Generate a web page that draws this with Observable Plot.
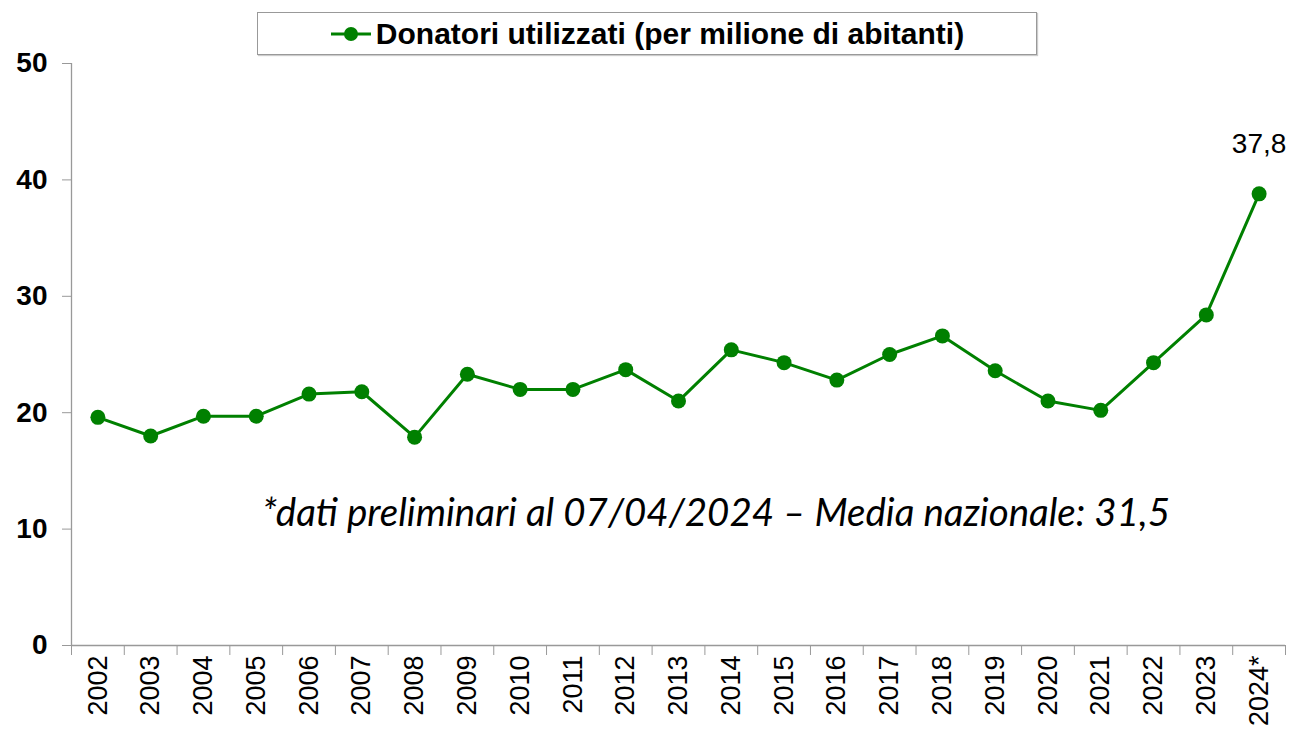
<!DOCTYPE html>
<html>
<head>
<meta charset="utf-8">
<script src="https://cdn.jsdelivr.net/npm/d3@7"></script>
<script src="https://cdn.jsdelivr.net/npm/@observablehq/plot@0.6"></script>
<style>
  html, body { margin: 0; padding: 0; background: #fff; }
  #wrap { position: relative; width: 1293px; height: 733px; }
  #legend {
    position: absolute; left: 257px; top: 12px; width: 780px; height: 43px;
    border: 1px solid #999; box-shadow: 1px 1px 1px #ccc; box-sizing: border-box;
    display: flex; align-items: center; justify-content: center;
    font-family: "Liberation Sans", Arial, sans-serif; font-weight: bold; font-size: 30px; color: #000;
  }
  #legend svg { margin-right: 4px; }
  #note {
    position: absolute; left: 0; width: 1432px; top: 488px; text-align: center;
    font-family: Lato, "Open Sans", sans-serif; font-style: italic; font-size: 38.5px; color: #000;
  }
</style>
</head>
<body>
<div id="wrap">
  <div id="chart"></div>
  <div id="legend"></div>
  <div id="note"></div>
</div>
<script>
const years = ["2002","2003","2004","2005","2006","2007","2008","2009","2010","2011","2012","2013","2014","2015","2016","2017","2018","2019","2020","2021","2022","2023","2024*"];
const values = [19.6, 18.0, 19.7, 19.7, 21.6, 21.8, 17.9, 23.3, 22.0, 22.0, 23.7, 21.0, 25.4, 24.3, 22.8, 25.0, 26.6, 23.6, 21.0, 20.2, 24.3, 28.4, 38.8];
const pointLabels = ["", "", "", "", "", "", "", "", "", "", "", "", "", "", "", "", "", "", "", "", "", "", "37,8"];
const yTicks = [0, 10, 20, 30, 40, 50];
const seriesName = "Donatori utilizzati (per milione di abitanti)";
const noteText = "*dati preliminari al 07/04/2024 \u2013 Media nazionale: 31,5";
const green = "#008000";

const data = years.map((year, i) => ({i, year, value: values[i], label: pointLabels[i]}));
const n = years.length;
const bounds = d3.range(n + 1).map(i => i - 0.5);
const centers = d3.range(n);

const chart = Plot.plot({
  width: 1293,
  height: 733,
  marginLeft: 71,
  marginRight: 8,
  marginTop: 63,
  marginBottom: 88,
  style: {fontFamily: "'Liberation Sans', Arial, sans-serif", background: "white", overflow: "visible"},
  x: {domain: [-0.5, n - 0.5]},
  y: {domain: [0, 50]},
  marks: [
    Plot.axisY(yTicks, {tickSize: 9, tickPadding: 15, fontSize: 28, fontWeight: "bold", stroke: "#999", fill: "#000", label: null}),
    Plot.axisX(bounds, {tickSize: 10, text: null, stroke: "#999", label: null}),
    Plot.axisX(centers, {tickSize: 0, tickPadding: 10, tickRotate: -90, tickFormat: i => years[i], fontSize: 27, fill: "#000", label: null}),
    Plot.ruleY([0], {stroke: "#999", strokeWidth: 1.3}),
    Plot.ruleX([bounds[0]], {stroke: "#999", strokeWidth: 1.3}),
    Plot.line(data, {x: "i", y: "value", stroke: green, strokeWidth: 3}),
    Plot.dot(data, {x: "i", y: "value", r: 7.5, fill: green, stroke: "none"}),
    Plot.text(data.filter(d => d.label), {x: "i", y: "value", text: "label", dy: -50, fontSize: 28, fill: "#000"})
  ]
});
document.getElementById("chart").appendChild(chart);

document.getElementById("legend").innerHTML =
  `<svg width="42" height="16"><line x1="1" y1="8" x2="41" y2="8" stroke="${green}" stroke-width="3"/><circle cx="21" cy="8" r="7" fill="${green}"/></svg><span>${seriesName}</span>`;
document.getElementById("note").textContent = noteText;
</script>
</body>
</html>
